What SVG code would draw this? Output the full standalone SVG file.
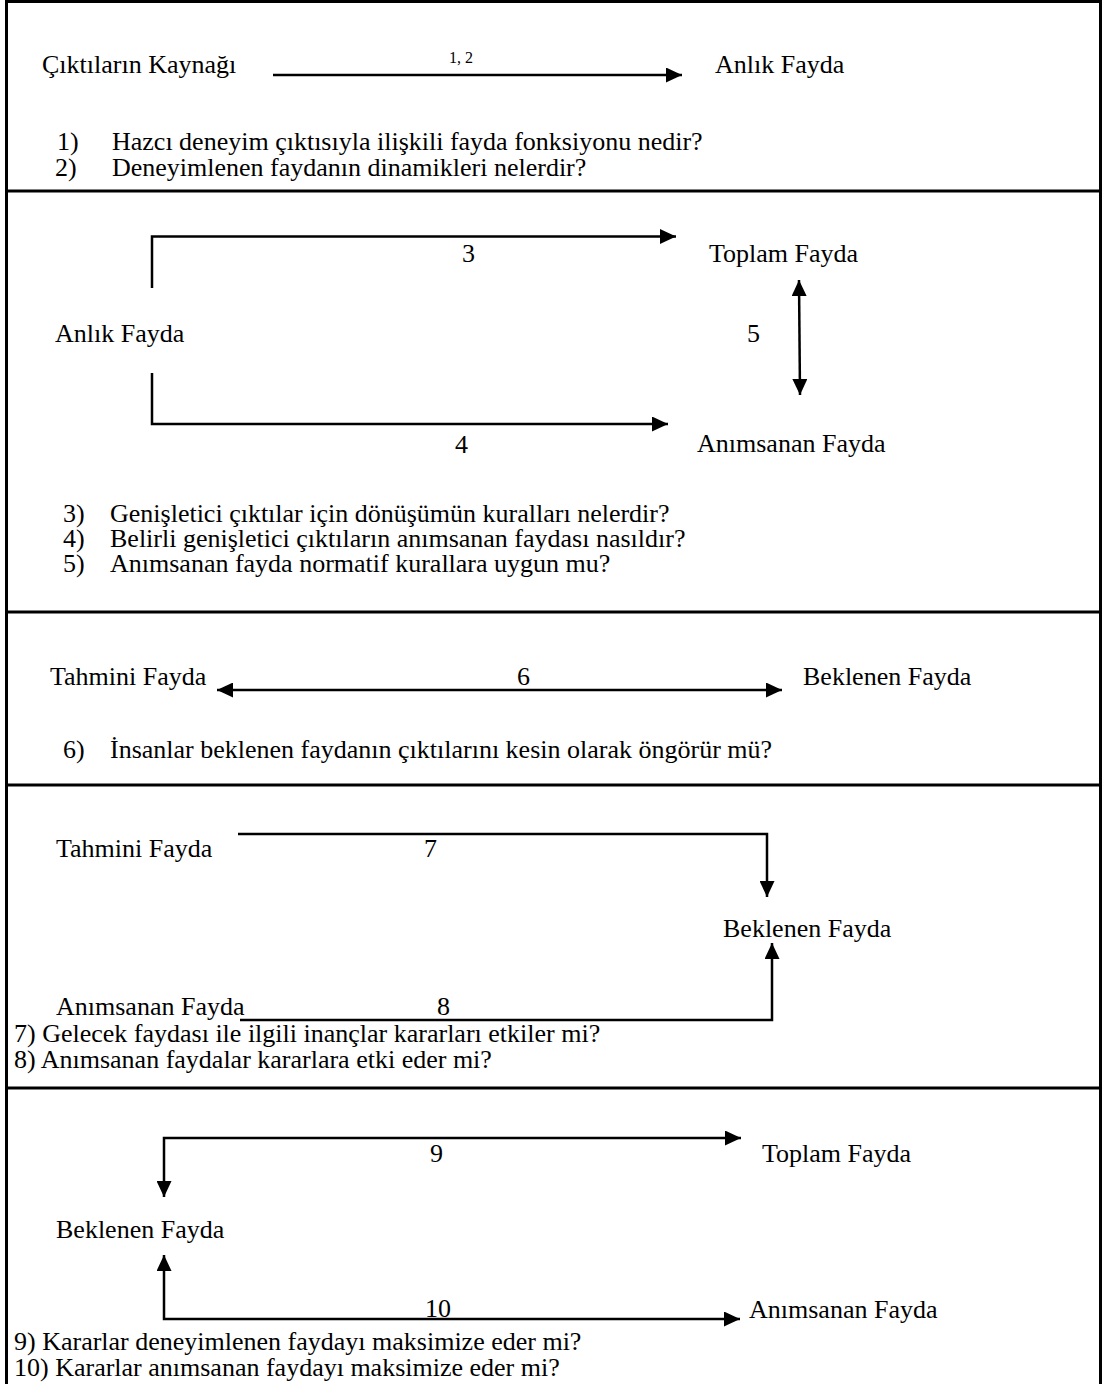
<svg xmlns="http://www.w3.org/2000/svg" width="1102" height="1384" viewBox="0 0 1102 1384">
<style>
text{font-family:"Liberation Serif","Times New Roman",serif;font-size:26px;fill:#000}
.small{font-size:16px}
.frame{stroke:#000;stroke-width:3;fill:none}
.conn{stroke:#000;stroke-width:2.5;fill:none}
</style>
<defs>
<marker id="ah" markerUnits="userSpaceOnUse" markerWidth="16" markerHeight="15" refX="16" refY="7.5" orient="auto-start-reverse">
<path d="M0,0 L16,7.5 L0,15 z" fill="#000"/>
</marker>
</defs>
<rect width="1102" height="1384" fill="#fff"/>
<g id="frame">
<line class="frame" x1="6" y1="1.5" x2="1101" y2="1.5"/>
<line class="frame" x1="6.5" y1="0" x2="6.5" y2="1384"/>
<line class="frame" x1="1100.5" y1="0" x2="1100.5" y2="1384"/>
<line class="frame" x1="6" y1="191" x2="1101" y2="191"/>
<line class="frame" x1="6" y1="612" x2="1101" y2="612"/>
<line class="frame" x1="6" y1="785" x2="1101" y2="785"/>
<line class="frame" x1="6" y1="1088" x2="1101" y2="1088"/>
</g>
<g id="connectors">
<line class="conn" x1="273" y1="75" x2="682" y2="75" marker-end="url(#ah)"/>
<polyline class="conn" points="152,288 152,236.5 676,236.5" marker-end="url(#ah)"/>
<polyline class="conn" points="152,373 152,424 668,424" marker-end="url(#ah)"/>
<line class="conn" x1="799" y1="280" x2="800" y2="395" marker-start="url(#ah)" marker-end="url(#ah)"/>
<line class="conn" x1="217" y1="690" x2="782" y2="690" marker-start="url(#ah)" marker-end="url(#ah)"/>
<polyline class="conn" points="238,834 767,834 767,897" marker-end="url(#ah)"/>
<polyline class="conn" points="240,1020 772,1020 772,943" marker-end="url(#ah)"/>
<polyline class="conn" points="741,1138 164,1138 164,1197" marker-start="url(#ah)" marker-end="url(#ah)"/>
<polyline class="conn" points="164,1255 164,1319 740,1319" marker-start="url(#ah)" marker-end="url(#ah)"/>
</g>
<g id="section1">
<g id="n-kaynak"><text x="42" y="73">Çıktıların Kaynağı</text></g>
<g id="n-anlik1"><text x="715" y="73">Anlık Fayda</text></g>
<text class="small" x="449" y="63">1, 2</text>
<text x="57" y="150">1)</text><text x="112" y="150">Hazcı deneyim çıktısıyla ilişkili fayda fonksiyonu nedir?</text>
<text x="55" y="176">2)</text><text x="112" y="176">Deneyimlenen faydanın dinamikleri nelerdir?</text>
</g>
<g id="section2">
<g id="n-anlik2"><text x="55" y="342">Anlık Fayda</text></g>
<g id="n-toplam1"><text x="709" y="262">Toplam Fayda</text></g>
<g id="n-animsanan1"><text x="697" y="452">Anımsanan Fayda</text></g>
<text x="462" y="262">3</text>
<text x="455" y="453">4</text>
<text x="747" y="342">5</text>
<text x="63" y="522">3)</text><text x="110" y="522">Genişletici çıktılar için dönüşümün kuralları nelerdir?</text>
<text x="63" y="547">4)</text><text x="110" y="547">Belirli genişletici çıktıların anımsanan faydası nasıldır?</text>
<text x="63" y="572">5)</text><text x="110" y="572">Anımsanan fayda normatif kurallara uygun mu?</text>
</g>
<g id="section3">
<g id="n-tahmini1"><text x="50" y="685">Tahmini Fayda</text></g>
<g id="n-beklenen1"><text x="803" y="685">Beklenen Fayda</text></g>
<text x="517" y="685">6</text>
<text x="63" y="758">6)</text><text x="110" y="758">İnsanlar beklenen faydanın çıktılarını kesin olarak öngörür mü?</text>
</g>
<g id="section4">
<g id="n-tahmini2"><text x="56" y="857">Tahmini Fayda</text></g>
<g id="n-beklenen2"><text x="723" y="937">Beklenen Fayda</text></g>
<g id="n-animsanan2"><text x="56" y="1015">Anımsanan Fayda</text></g>
<text x="424" y="857">7</text>
<text x="437" y="1015">8</text>
<text x="14" y="1042">7) Gelecek faydası ile ilgili inançlar kararları etkiler mi?</text>
<text x="14" y="1068">8) Anımsanan faydalar kararlara etki eder mi?</text>
</g>
<g id="section5">
<g id="n-toplam2"><text x="762" y="1162">Toplam Fayda</text></g>
<g id="n-beklenen3"><text x="56" y="1238">Beklenen Fayda</text></g>
<g id="n-animsanan3"><text x="749" y="1318">Anımsanan Fayda</text></g>
<text x="430" y="1162">9</text>
<text x="425" y="1317">10</text>
<text x="14" y="1350">9) Kararlar deneyimlenen faydayı maksimize eder mi?</text>
<text x="14" y="1376">10) Kararlar anımsanan faydayı maksimize eder mi?</text>
</g>
</svg>
